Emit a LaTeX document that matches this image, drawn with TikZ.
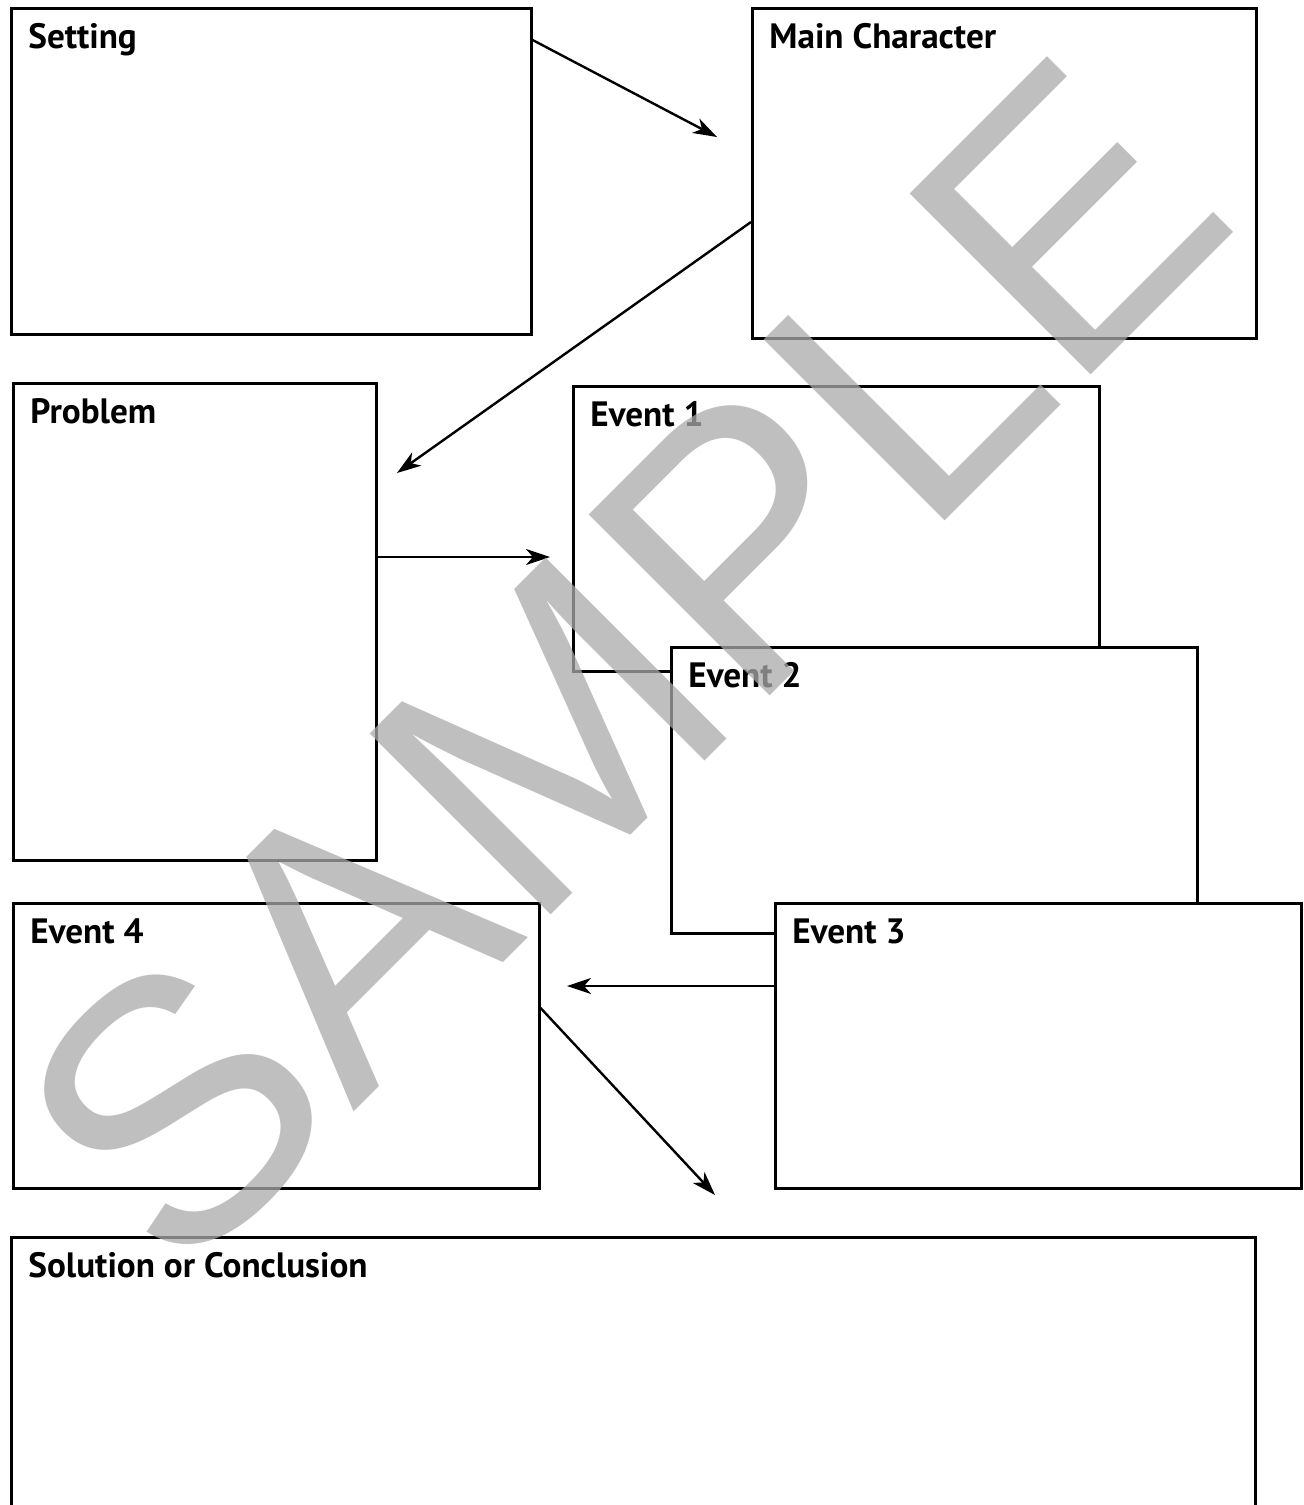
\documentclass[tikz,border=0pt]{standalone}
\usepackage{fontspec}
\setmainfont{PT Sans}
\newfontfamily\stampfont{Liberation Sans}
\usetikzlibrary{arrows.meta,positioning}
\definecolor{stampgray}{HTML}{AAAAAA}
\newcommand{\storybox}[5]{\node[box,minimum width=#3,minimum height=#4] (#1) at (#2) {};\node[lbl] (#1lbl) at ([shift={(18,41)}]#1.north west) {#5};}

\begin{document}
\begin{tikzpicture}[x=0.5pt,y=-0.5pt,
  box/.style={draw,line width=1.3pt,fill=white,inner sep=0pt,anchor=north west},
  lbl/.style={anchor=base west,inner sep=0pt,font=\bfseries\fontsize{17.6}{19}\selectfont},
  link/.style={line width=1.2pt,-{Stealth[length=12pt,width=8pt,inset=3.5pt]}},
  stamp/.style={anchor=base west,inner sep=0pt,rotate=45,text=stampgray,text opacity=0.75,font=\stampfont\fontsize{186}{186}\selectfont}]
\useasboundingbox (0,0) rectangle (1304,1505);\clip (0,0) rectangle (1304,1505);
\storybox{setting}{10,7}{260pt}{163pt}{Setting}
\storybox{main}{751,7}{252pt}{165pt}{Main Character}
\storybox{problem}{12,382}{181.5pt}{238.5pt}{Problem}
\storybox{eventone}{572,385}{263pt}{142.5pt}{Event 1}
\storybox{eventtwo}{670,646}{263pt}{143pt}{Event 2}
\storybox{eventthree}{774,902}{263pt}{142.5pt}{Event 3}
\storybox{eventfour}{12,902}{263pt}{142.5pt}{Event 4}
\storybox{solution}{10,1236}{622pt}{165pt}{Solution or Conclusion}
\coordinate (mainin) at (717,137);\coordinate (problemin) at (397,473);
\coordinate (eventonein) at (550,557);\coordinate (eventfourin) at (567,986);
\coordinate (solutionin) at (715,1195);
\draw[link] ([yshift=-16.5pt]setting.north east) -- (mainin);
\draw[link] ([yshift=-107.5pt]main.north west) -- (problemin);
\draw[link] ([yshift=-87.5pt]problem.north east) -- (eventonein);
\draw[link] ([yshift=-42pt]eventthree.north west) -- (eventfourin);
\draw[link] ([yshift=-53pt]eventfour.north east) -- (solutionin);
\node[stamp] (sample) at (178,1288) {SAMPLE};
\end{tikzpicture}
\end{document}
